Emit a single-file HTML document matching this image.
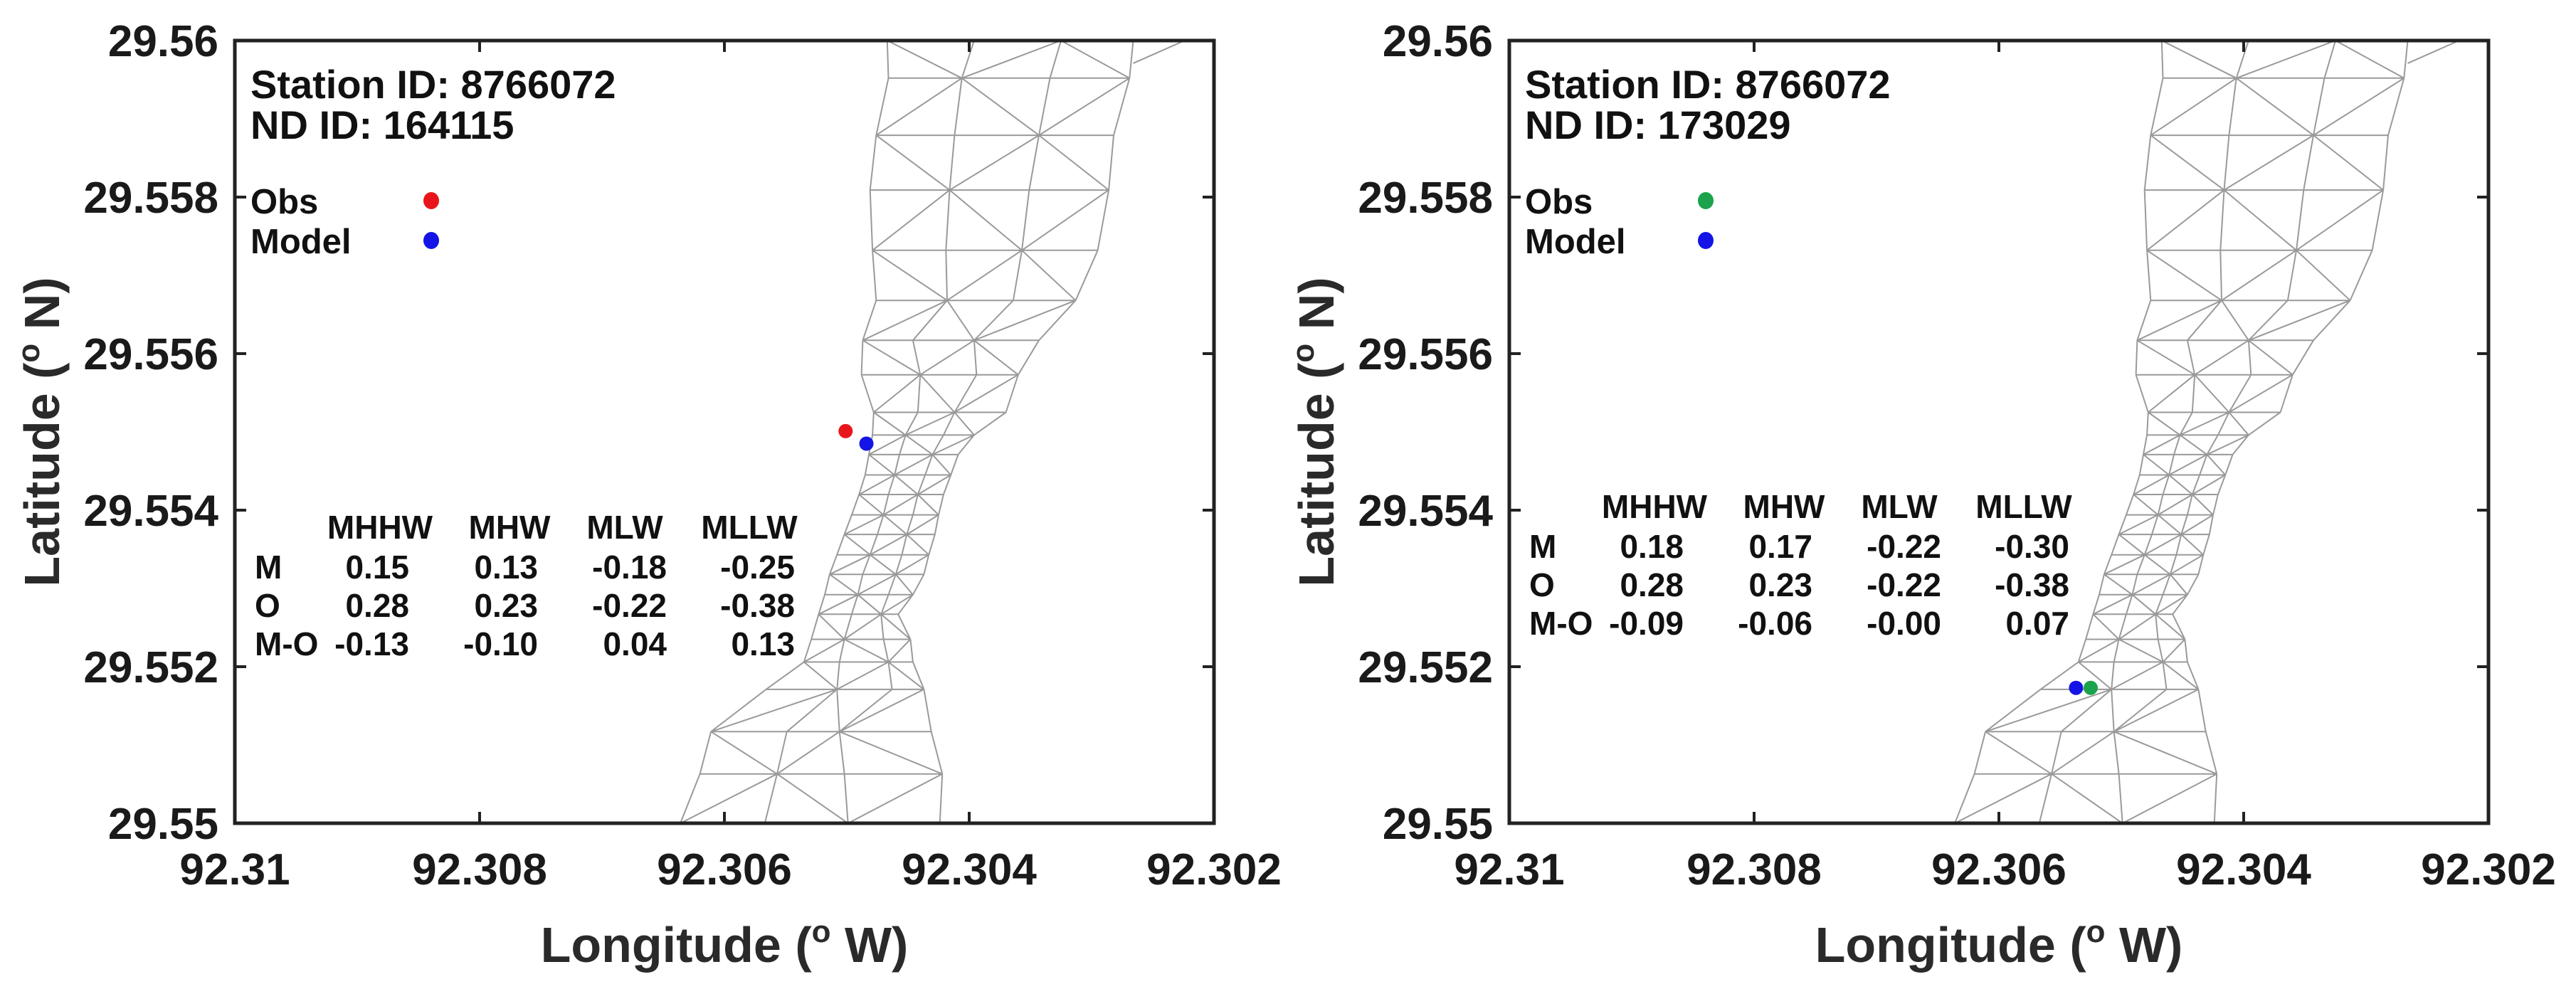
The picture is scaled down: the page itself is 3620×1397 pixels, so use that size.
<!DOCTYPE html>
<html><head><meta charset="utf-8">
<style>
html,body{margin:0;padding:0;background:#fff;}
svg{display:block;font-family:"Liberation Sans",Arial,sans-serif;font-weight:bold;}
</style></head>
<body>
<svg id="fig" width="3620" height="1397" viewBox="0 0 3620 1397" xmlns="http://www.w3.org/2000/svg">
<rect width="3620" height="1397" fill="#fff"/>
</svg>
<script>
// ---- data ----
const xTicks = [92.31, 92.308, 92.306, 92.304, 92.302];
const xTickLabels = ["92.31", "92.308", "92.306", "92.304", "92.302"];
const yTicks = [29.55, 29.552, 29.554, 29.556, 29.558, 29.56];
const yTickLabels = ["29.55", "29.552", "29.554", "29.556", "29.558", "29.56"];
const meshLats = [29.56, 29.55952, 29.55879, 29.55809, 29.55732, 29.55668, 29.55617, 29.55573, 29.55525, 29.55496,
  29.55471, 29.55445, 29.5542, 29.55394, 29.55369, 29.55343, 29.55318, 29.55292, 29.55267, 29.55235, 29.55206,
  29.55171, 29.55117, 29.55063, 29.55];
const meshLons = [
  [92.30467, 92.30396, 92.30325, 92.30266],
  [92.30466, 92.30406, 92.30334, 92.30269],
  [92.30476, 92.30412, 92.30343, 92.30282],
  [92.30481, 92.30416, 92.30351, 92.30286],
  [92.30479, 92.30419, 92.30357, 92.30295],
  [92.30476, 92.30418, 92.30364, 92.30313],
  [92.30487, 92.30446, 92.30396, 92.30343],
  [92.30488, 92.30440, 92.30394, 92.30360],
  [92.30478, 92.30442, 92.30412, 92.30370],
  [92.30479, 92.30452, 92.30421, 92.30396],
  [92.30482, 92.30457, 92.30430, 92.30409],
  [92.30485, 92.30461, 92.30436, 92.30415],
  [92.30490, 92.30466, 92.30442, 92.30421],
  [92.30496, 92.30470, 92.30446, 92.30425],
  [92.30502, 92.30475, 92.30451, 92.30428],
  [92.30508, 92.30481, 92.30455, 92.30433],
  [92.30514, 92.30487, 92.30460, 92.30437],
  [92.30518, 92.30491, 92.30466, 92.30446],
  [92.30523, 92.30496, 92.30472, 92.30458],
  [92.30529, 92.30502, 92.30470, 92.30448],
  [92.30535, 92.30506, 92.30466, 92.30446],
  [92.30566, 92.30508, 92.30463, 92.30437],
  [92.30611, 92.30549, 92.30506, 92.30431],
  [92.30620, 92.30557, 92.30502, 92.30422],
  [92.30636, 92.30567, 92.30499, 92.30424]
];
const extraLons = [92.30266, 92.30224];
const extraLats = [29.55971, 29.56];
const headers = ["MHHW", "MHW", "MLW", "MLLW"];
const rowLabels = ["M", "O", "M-O"];
const panelStation = ["Station ID: 8766072", "Station ID: 8766072"];
const panelNode = ["ND ID: 164115", "ND ID: 173029"];
const tableLeft = [["0.15","0.13","-0.18","-0.25"],["0.28","0.23","-0.22","-0.38"],["-0.13","-0.10","0.04","0.13"]];
const tableRight = [["0.18","0.17","-0.22","-0.30"],["0.28","0.23","-0.22","-0.38"],["-0.09","-0.06","-0.00","0.07"]];
const obsLon = [92.30501, 92.30525];
const obsLat = [29.55501, 29.55173];
const modLon = [92.30484, 92.30537];
const modLat = [29.55485, 29.55173];
const obsColor = ["#e8161c", "#1aa24c"];

// ---- drawing ----
const NS = "http://www.w3.org/2000/svg";
const svg = document.getElementById("fig");
function mk(tag, attrs, parent) {
  const e = document.createElementNS(NS, tag);
  for (const k in attrs) e.setAttribute(k, attrs[k]);
  (parent || svg).appendChild(e);
  return e;
}
const W = 1376, H = 1100, TOP = 57;
const lefts = [330, 2121];
const tableBase = [757, 728];
const hdrX = [204, 386, 548, 723];
const valX = [245, 426, 607, 787];

lefts.forEach((L, p) => {
  const sx = lon => L + (92.31 - lon) / 0.008 * W;
  const sy = lat => TOP + (29.56 - lat) / 0.01 * H;
  const g = mk("g", {});
  
  
  const cid = "clip" + p;
  const cp = mk("clipPath", {id: cid}, g);
  mk("rect", {x: L, y: TOP, width: W, height: H}, cp);

  // mesh
  const mg = mk("g", {"clip-path": "url(#" + cid + ")", stroke: "#9a9a9a", "stroke-width": 2, fill: "none"}, g);
  
  
  let d = "";
  const P = (i, j) => sx(meshLons[i][j]).toFixed(1) + " " + sy(meshLats[i]).toFixed(1);
  for (let i = 0; i < meshLats.length; i++) {
    d += "M" + P(i, 0);
    for (let j = 1; j < 4; j++) d += "L" + P(i, j);
    if (i < meshLats.length - 1) {
      for (let j = 0; j < 4; j++) d += "M" + P(i, j) + "L" + P(i + 1, j);
      for (let j = 0; j < 3; j++) {
        if ((i + j) % 2 === 0) d += "M" + P(i, j) + "L" + P(i + 1, j + 1);
        else d += "M" + P(i, j + 1) + "L" + P(i + 1, j);
      }
    }
  }
  d += "M" + sx(extraLons[0]) + " " + sy(extraLats[0]) + "L" + sx(extraLons[1]) + " " + sy(extraLats[1]);
  const mp = mk("path", {d: d}, mg);
  
  

  // axes box
  const box = mk("rect", {x: L, y: TOP, width: W, height: H, fill: "none", stroke: "#222", "stroke-width": 5}, g);
  
  

  // ticks
  xTicks.forEach((t, k) => {
    const x = sx(t);
    const tk = mk("path", {d: `M${x} ${TOP + H}v-16M${x} ${TOP}v16`, stroke: "#222", "stroke-width": 4}, g);
    
    
    const tl = mk("text", {x: x, y: 1243, "font-size": 62, "text-anchor": "middle", fill: "#1a1a1a"}, g);
    tl.textContent = xTickLabels[k];
    
    
  });
  yTicks.forEach((t, k) => {
    const y = sy(t);
    const tk = mk("path", {d: `M${L} ${y}h16M${L + W} ${y}h-16`, stroke: "#222", "stroke-width": 4}, g);
    
    
    const tl = mk("text", {x: L - 23, y: y + 22, "font-size": 62, "text-anchor": "end", fill: "#1a1a1a"}, g);
    tl.textContent = yTickLabels[k];
    
    
  });

  // axis titles
  const xt = mk("text", {x: L + W / 2, y: 1352, "font-size": 70, "text-anchor": "middle", fill: "#2a2a2a"}, g);
  
  
  xt.innerHTML = 'Longitude (<tspan font-size="44" dy="-28">o</tspan><tspan dy="28"> W)</tspan>';
  const yt = mk("text", {transform: `translate(${L - 247},607) rotate(-90)`, "font-size": 70, "text-anchor": "middle", fill: "#2a2a2a"}, g);
  
  
  yt.innerHTML = 'Latitude (<tspan font-size="44" dy="-28">o</tspan><tspan dy="28"> N)</tspan>';

  // station text
  const s1 = mk("text", {x: L + 22, y: 138, "font-size": 56, fill: "#111"}, g);
  s1.textContent = panelStation[p];
  
  
  const s2 = mk("text", {x: L + 22, y: 195, "font-size": 56, fill: "#111"}, g);
  s2.textContent = panelNode[p];
  
  

  // legend
  const lo = mk("text", {x: L + 22, y: 300, "font-size": 49, fill: "#111"}, g);
  lo.textContent = "Obs";
  
  
  const lm = mk("text", {x: L + 22, y: 356, "font-size": 49, fill: "#111"}, g);
  lm.textContent = "Model";
  
  
  const ld1 = mk("ellipse", {cx: L + 276, cy: 282, rx: 11, ry: 12, fill: obsColor[p]}, g);
  
  
  const ld2 = mk("ellipse", {cx: L + 276, cy: 338, rx: 11, ry: 12, fill: "#1414e6"}, g);
  
  

  // table
  const tb = tableBase[p];
  const tbl = p === 0 ? tableLeft : tableRight;
  headers.forEach((h, c) => {
    const t = mk("text", {x: L + hdrX[c], y: tb, "font-size": 46, "text-anchor": "middle", fill: "#111"}, g);
    t.textContent = h;
    
    
  });
  rowLabels.forEach((r, ri) => {
    const yy = tb + 56 + ri * 54;
    const t = mk("text", {x: L + 28, y: yy, "font-size": 46, fill: "#111"}, g);
    t.textContent = r;
    
    
    tbl[ri].forEach((v, c) => {
      const tv = mk("text", {x: L + valX[c], y: yy, "font-size": 46, "text-anchor": "end", fill: "#111"}, g);
      tv.textContent = v;
      
      
    });
  });

  // points
  const om = mk("ellipse", {cx: sx(obsLon[p]), cy: sy(obsLat[p]), rx: 10, ry: 10, fill: obsColor[p]}, g);
  
  
  const mm = mk("ellipse", {cx: sx(modLon[p]), cy: sy(modLat[p]), rx: 10, ry: 10, fill: "#1414e6"}, g);
  
  
});
</script>
</body></html>
